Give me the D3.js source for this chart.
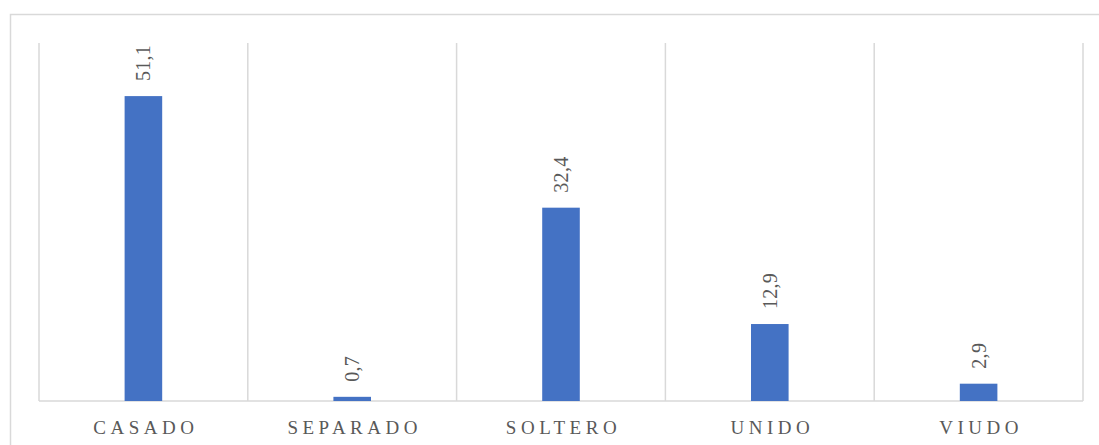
<!DOCTYPE html>
<html>
<head>
<meta charset="utf-8">
<script src="https://cdn.jsdelivr.net/npm/d3@7"></script>
<style>
  body { margin: 0; background: #fff; }
  svg { display: block; }
  text { font-family: "Liberation Serif", "Times New Roman", serif; fill: #595959; }
</style>
</head>
<body>
<div id="chart"></div>
<script>
// datos
const categories = ["CASADO", "SEPARADO", "SOLTERO", "UNIDO", "VIUDO"];
const values = [51.1, 0.7, 32.4, 12.9, 2.9];
const valueLabels = ["51,1", "0,7", "32,4", "12,9", "2,9"];

const width = 1099, height = 445;
const margin = {top: 43, right: 16, bottom: 44, left: 39};

const svg = d3.select("#chart").append("svg")
    .attr("width", width)
    .attr("height", height);

// marco exterior
svg.append("rect")
    .attr("x", 10.5).attr("y", 14.5)
    .attr("width", width).attr("height", height)
    .attr("fill", "none")
    .attr("stroke", "#d9d9d9")
    .attr("stroke-width", 1.5);

const x = d3.scaleBand()
    .domain(categories)
    .range([margin.left, width - margin.right])
    .paddingInner(0.82)
    .paddingOuter(0.41);

const y = d3.scaleLinear()
    .domain([0, 60])
    .range([height - margin.bottom, margin.top]);

const step = x.step();
const bounds = d3.range(categories.length + 1).map(i => margin.left + i * step);

// lineas verticales
svg.append("g").selectAll("line")
  .data(bounds)
  .enter().append("line")
    .attr("x1", d => d).attr("x2", d => d)
    .attr("y1", y(60)).attr("y2", y(0))
    .attr("stroke", "#d9d9d9")
    .attr("stroke-width", 1.5);

// eje base
svg.append("line")
    .attr("x1", margin.left).attr("x2", width - margin.right)
    .attr("y1", y(0)).attr("y2", y(0))
    .attr("stroke", "#d9d9d9")
    .attr("stroke-width", 1.5);

// barras
svg.append("g").selectAll("rect")
  .data(values)
  .enter().append("rect")
    .attr("x", (d, i) => x(categories[i]))
    .attr("y", d => y(d))
    .attr("width", x.bandwidth())
    .attr("height", d => y(0) - y(d))
    .attr("fill", "#4472C4");

// etiquetas de valor
svg.append("g").selectAll("text")
  .data(values)
  .enter().append("text")
    .attr("transform", (d, i) => "translate(" + [x(categories[i]) + x.bandwidth() / 2 + 7, y(d) - 15] + ")rotate(-90)")
    .attr("text-anchor", "start")
    .style("font-size", "20px")
    .style("letter-spacing", "0.3px")
    .text((d, i) => valueLabels[i]);

// categorias
svg.append("g").selectAll("text")
  .data(categories)
  .enter().append("text")
    .attr("x", d => x(d) + x.bandwidth() / 2 + 2.5)
    .attr("y", 434)
    .attr("text-anchor", "middle")
    .style("font-size", "19px")
    .style("letter-spacing", "4.5px")
    .text(d => d);
</script>
</body>
</html>
